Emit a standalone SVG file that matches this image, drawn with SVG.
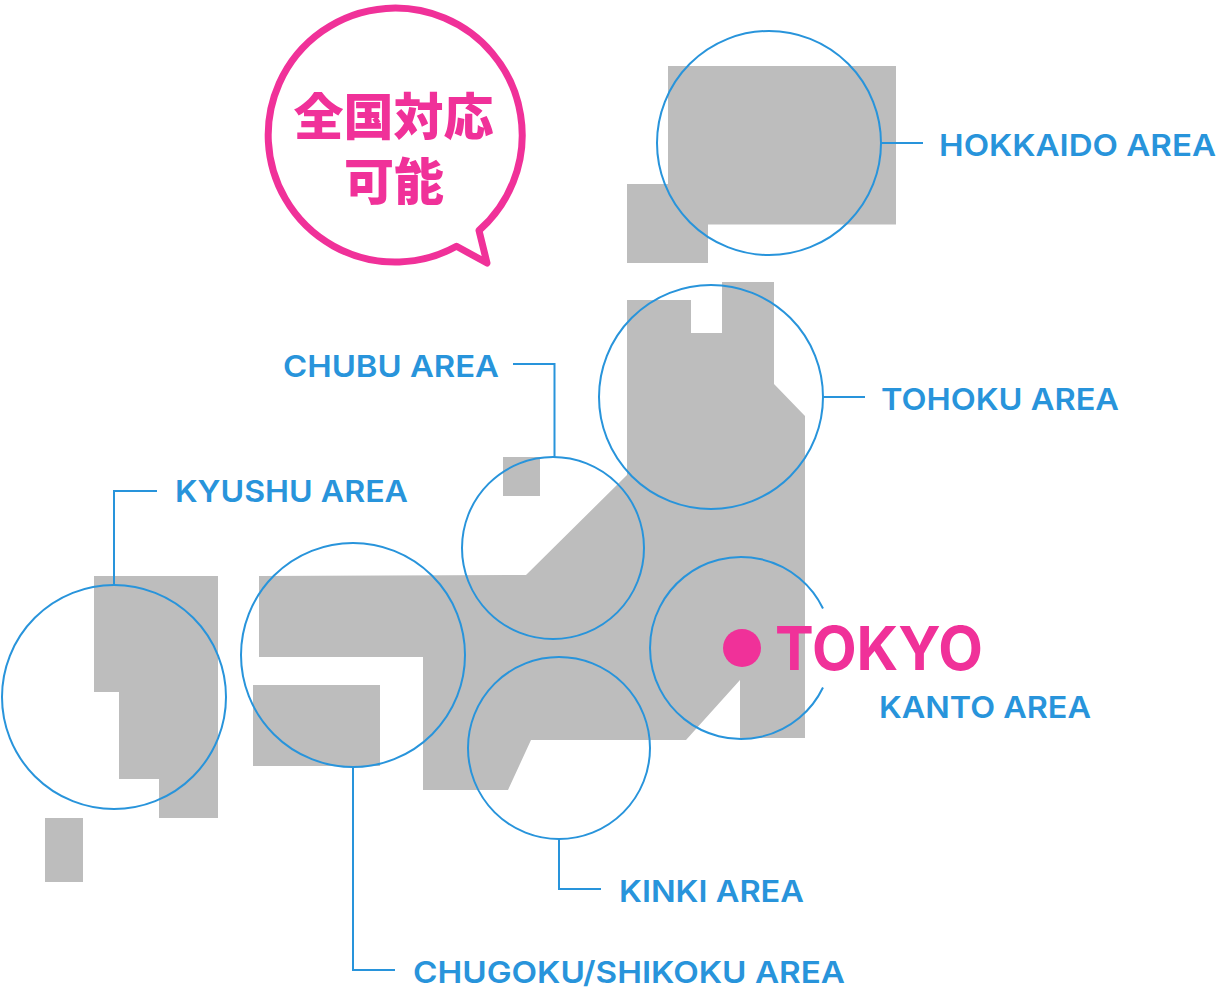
<svg xmlns="http://www.w3.org/2000/svg" width="1220" height="1000" viewBox="0 0 1220 1000">
<style>
.land{fill:#bdbdbd}
.ring{fill:none;stroke:#2894db;stroke-width:2}
.lead{fill:none;stroke:#2894db;stroke-width:2}
.label{font-family:"Inter","Liberation Sans",sans-serif;font-weight:600;font-size:30px;fill:#2894db}
.pink{fill:#f03199}
.jp{font-family:"Noto Sans CJK JP",sans-serif;font-weight:900;font-size:50px;fill:#f03199;text-anchor:middle}
.big{font-family:"Inter","Liberation Sans",sans-serif;font-weight:700;font-size:60px;fill:#f03199}
</style>
<rect width="1220" height="1000" fill="#fff"/>
<g id="map">
<polygon class="land" points="668,66 896,66 896,224.500 708,224.500 708,263 627,263 627,184 668,184"/>
<polygon class="land" points="627,300 691,300 691,333 722,333 722,282 774,282 774,384 805,416 805,738 740,738 740,680 686,740 531,740 508,790 423,790 423,657 259,657 259,576 526,575 627,475"/>
<rect class="land" x="503" y="457" width="37" height="39"/>
<rect class="land" x="253" y="685" width="127" height="81"/>
<polygon class="land" points="94,576 218,576 218,818 159,818 159,779 119,779 119,692 94,692"/>
<rect class="land" x="45" y="818" width="38" height="64"/>
</g>
<g id="connectors">
<path class="lead" d="M881 143H923"/>
<path class="lead" d="M823 397H865"/>
<path class="lead" d="M554.500 458V364H513"/>
<path class="lead" d="M114 585V491H157"/>
<path class="lead" d="M559 839V889H601"/>
<path class="lead" d="M353 767V970H395"/>
</g>
<g id="hokkaido"><circle class="ring" cx="769" cy="143" r="112"/><text class="label" x="939" y="156" textLength="277" lengthAdjust="spacingAndGlyphs">HOKKAIDO AREA</text></g>
<g id="tohoku"><circle class="ring" cx="711" cy="397" r="112"/><text class="label" x="881" y="410" textLength="238" lengthAdjust="spacingAndGlyphs">TOHOKU AREA</text></g>
<g id="chubu"><circle class="ring" cx="553" cy="548" r="91"/><text class="label" x="283" y="377" textLength="216" lengthAdjust="spacingAndGlyphs">CHUBU AREA</text></g>
<g id="kyushu"><circle class="ring" cx="114" cy="697" r="112"/><text class="label" x="175" y="502" textLength="233" lengthAdjust="spacingAndGlyphs">KYUSHU AREA</text></g>
<g id="chugoku"><circle class="ring" cx="353" cy="655" r="112"/><text class="label" x="413" y="983" textLength="432" lengthAdjust="spacingAndGlyphs">CHUGOKU/SHIKOKU AREA</text></g>
<g id="kinki"><circle class="ring" cx="559" cy="748" r="91"/><text class="label" x="619" y="902" textLength="185" lengthAdjust="spacingAndGlyphs">KINKI AREA</text></g>
<g id="kanto">
<path class="ring" d="M823 608.500A91 91 0 1 0 823 687.500"/>
<circle class="pink" cx="742" cy="648" r="19"/>
<text class="big" x="775" y="670" textLength="208" lengthAdjust="spacingAndGlyphs">TOKYO</text>
<text class="label" x="879" y="718" textLength="212" lengthAdjust="spacingAndGlyphs">KANTO AREA</text>
</g>
<g id="bubble">
<path d="M479 230.500A127 127 0 1 0 456.500 246.300L487 263Z" fill="#fff" stroke="#f03199" stroke-width="7" stroke-linejoin="round"/>
<text class="jp" x="393.500" y="135">全国対応</text>
<text class="jp" x="394" y="200">可能</text>
</g>
</svg>
